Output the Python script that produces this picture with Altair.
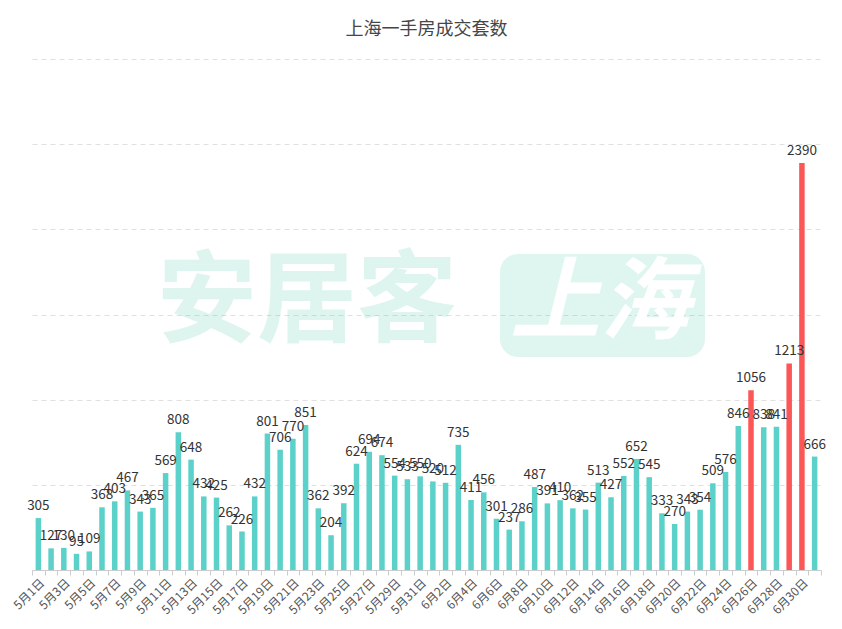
import altair as alt
import pandas as pd

# ---- data ----
may_days = [f"5月{d}日" for d in range(1, 32)]
jun_days = [f"6月{d}日" for d in range(1, 31)]
dates = may_days + jun_days + ["7月1日"]

may_values = [305, 127, 130, 95, 109, 368, 403, 467, 343, 365,
              569, 808, 648, 432, 425, 262, 226, 432, 801, 706,
              770, 851, 362, 204, 392, 624, 694, 674, 554, 533, 550]
jun_values = [520, 512, 735, 411, 456, 301, 237, 286, 487, 391,
              410, 362, 355, 513, 427, 552, 652, 545, 333, 270,
              343, 354, 509, 576, 846, 1056, 838, 841, 1213, 2390]
jul_values = [666]
values = may_values + jun_values + jul_values

highlighted = ["6月26日", "6月29日", "6月30日"]
shown_labels = dates[0::2]

TEAL = "#5bd1c9"
RED = "#fd5656"
FONT = "Noto Sans CJK SC"

df = pd.DataFrame({
    "date": dates,
    "value": values,
    "hl": ["red" if d in highlighted else "teal" for d in dates],
})

wm_df = pd.DataFrame({"t": ["安居客"]})

shown_js = "[" + ",".join(f"'{s}'" for s in shown_labels) + "]"

x_enc = alt.X(
    "date:N",
    sort=None,
    title=None,
    scale=alt.Scale(paddingInner=0, paddingOuter=0),
    axis=alt.Axis(
        labelAngle=-45,
        labelAlign="right",
        labelBaseline="top",
        labelExpr=f"indexof({shown_js}, datum.value) >= 0 ? datum.value : ''",
        labelOverlap=False,
        labelFont=FONT,
        labelFontSize=12,
        labelColor="#555555",
        labelPadding=2,
        tickBand="extent",
        tickColor="#cccccc",
        tickSize=5,
        domainColor="#cccccc",
        grid=False,
    ),
)
y_enc = alt.Y(
    "value:Q",
    title=None,
    scale=alt.Scale(domain=[0, 3000], nice=False),
    axis=alt.Axis(
        values=[500, 1000, 1500, 2000, 2500, 3000],
        labels=False,
        ticks=False,
        domain=False,
        grid=True,
        gridColor="#e0e0e0",
        gridDash=[5, 4],
        gridWidth=1,
    ),
)

base = alt.Chart(df)

# watermark (decorative)
wm_text = alt.Chart(wm_df).mark_text(
    font=FONT, fontSize=100, fontWeight="bold", color="#3cc9a0", opacity=0.17,
    align="center", baseline="middle",
).encode(x=alt.value(275), y=alt.value(245), text="t:N")
wm_box = alt.Chart(wm_df).mark_rect(
    color="#3cc9a0", opacity=0.17, cornerRadius=18,
).encode(x=alt.value(468), x2=alt.value(673), y=alt.value(195), y2=alt.value(298))
wm_box_text = alt.Chart(pd.DataFrame({"t": ["上海"]})).mark_text(
    font=FONT, fontSize=90, fontWeight="bold", fontStyle="italic", color="#ffffff",
    align="center", baseline="middle",
).encode(x=alt.value(568), y=alt.value(246), text="t:N")

bars = base.mark_bar(size=5.5).encode(
    x=x_enc,
    y=y_enc,
    color=alt.Color("hl:N", scale=alt.Scale(domain=["teal", "red"], range=[TEAL, RED]), legend=None),
)
labels = base.mark_text(
    font=FONT, fontSize=13.5, color="#333333", baseline="bottom", dy=-5,
).encode(x=alt.X("date:N", sort=None), y="value:Q", text="value:Q")

chart = alt.layer(wm_box, wm_text, wm_box_text, bars, labels).properties(
    width=789,
    height=511,
    background="white",
    title=alt.TitleParams(
        "上海一手房成交套数", font=FONT, fontSize=18, fontWeight="normal",
        color="#464646", anchor="middle", offset=20, frame="group",
    ),
    autosize=alt.AutoSizeParams(type="none"),
    padding={"left": 24, "top": 51, "right": 13, "bottom": 50},
).configure_view(strokeWidth=0, stroke="transparent")

chart.save("out.html", embed_options={"renderer": "svg", "actions": False})
